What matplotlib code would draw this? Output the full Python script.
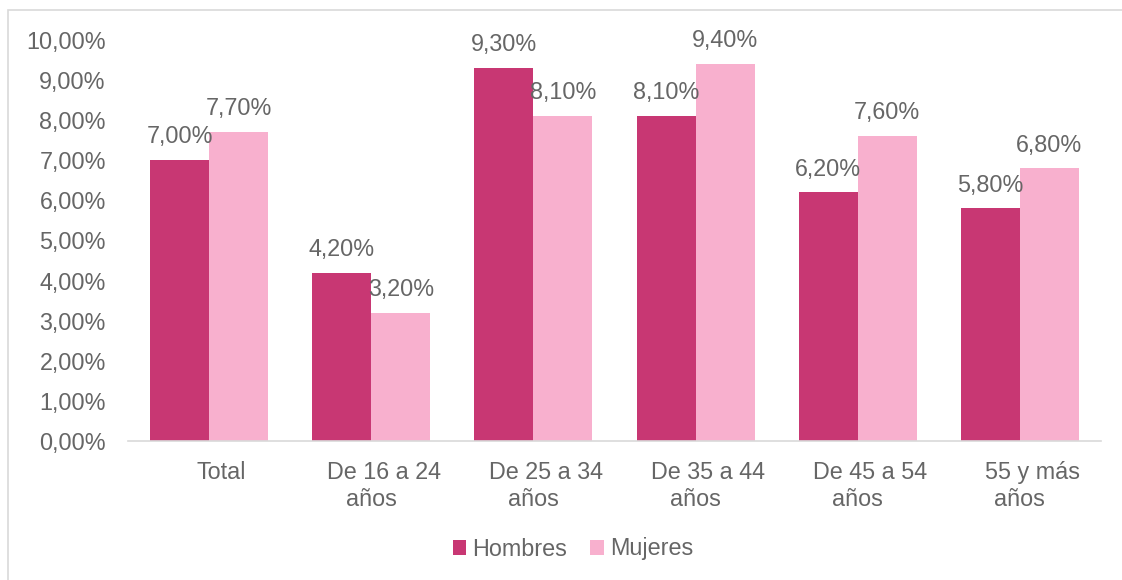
import matplotlib
matplotlib.use("Agg")
import matplotlib.pyplot as plt
from matplotlib.patches import Rectangle, Patch
import numpy as np

categories_line1 = ["Total", "De 16 a 24", "De 25 a 34", "De 35 a 44", "De 45 a 54", "55 y más"]
categories_line2 = ["", "años", "años", "años", "años", "años"]
hombres = [7.0, 4.2, 9.3, 8.1, 6.2, 5.8]
mujeres = [7.7, 3.2, 8.1, 9.4, 7.6, 6.8]
series_names = ["Hombres", "Mujeres"]
yticks = [0, 1, 2, 3, 4, 5, 6, 7, 8, 9, 10]

c_h = "#C83773"
c_m = "#F8B0CE"
txt = "#666666"
FS = 16.8

plt.rcParams['font.family'] = ['Liberation Sans', 'DejaVu Sans']

fig = plt.figure(figsize=(11.22, 5.80), dpi=100)
ax = fig.add_axes([128/1122, (580-441)/580, (1101-128)/1122, (441-40)/580])

x = np.arange(len(hombres))
w = 0.364
b1 = ax.bar(x - w/2, hombres, w, color=c_h, label=series_names[0])
b2 = ax.bar(x + w/2, mujeres, w, color=c_m, label=series_names[1])

def fmt(v):
    return f"{v:.2f}".replace(".", ",") + "%"

for bars, vals in ((b1, hombres), (b2, mujeres)):
    for r, v in zip(bars, vals):
        ax.annotate(fmt(v), (r.get_x() + r.get_width()/2, v), xytext=(0, 8.5),
                    textcoords="offset points", ha="center", va="bottom",
                    fontsize=FS, color=txt)

ax.set_xlim(-0.5, len(hombres) - 0.5)
ax.set_ylim(0, 10)
ax.set_yticks(yticks)
ax.set_yticklabels([f"{t:.2f}".replace(".", ",") + "%" for t in yticks], fontsize=FS, color=txt)
ax.tick_params(axis="y", length=0, pad=16)
ax.set_xticks(x)
ax.set_xticklabels([""] * len(x))
ax.tick_params(axis="x", length=0)

for i, (l1, l2) in enumerate(zip(categories_line1, categories_line2)):
    ax.annotate(l1, (x[i], 0), xycoords=("data", "axes fraction"), xytext=(9, -27.4),
                textcoords="offset points", ha="center", va="baseline", fontsize=FS, color=txt)
    if l2:
        ax.annotate(l2, (x[i], 0), xycoords=("data", "axes fraction"), xytext=(0, -46.8),
                    textcoords="offset points", ha="center", va="baseline", fontsize=FS, color=txt)

for s in ("top", "right", "left"):
    ax.spines[s].set_visible(False)
ax.spines["bottom"].set_color("#D9D9D9")
ax.spines["bottom"].set_linewidth(1.2)

handles = [Patch(facecolor=c_h), Patch(facecolor=c_m)]
fig.legend(handles, series_names, loc="center", bbox_to_anchor=(573/1122, 1 - 549/580),
           ncol=2, frameon=False, fontsize=FS, labelcolor=txt,
           handlelength=0.58, handleheight=0.58, handletextpad=0.25, columnspacing=1.0)

fig.patches.append(Rectangle((7.5/1122, -0.1), 1.2, (570/580) + 0.1, transform=fig.transFigure,
                             fill=False, edgecolor="#D9D9D9", linewidth=1.2))

fig.savefig("out.png", dpi=100)
